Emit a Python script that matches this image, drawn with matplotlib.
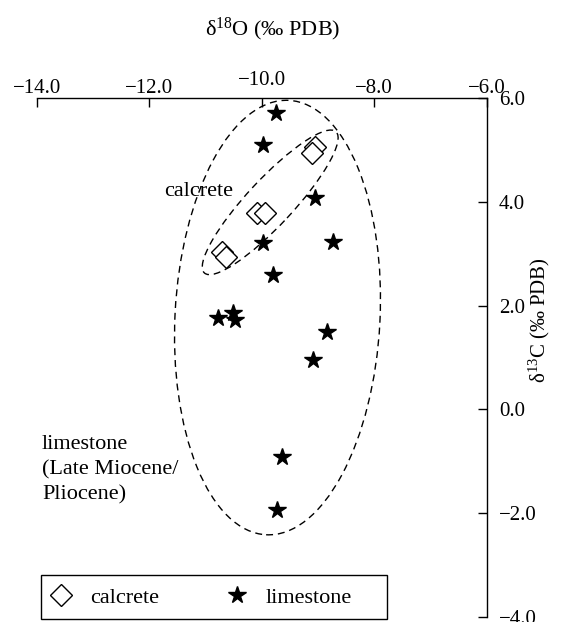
import matplotlib
matplotlib.use("Agg")
import matplotlib.pyplot as plt
from matplotlib.patches import Ellipse, Rectangle
from matplotlib.transforms import ScaledTranslation

plt.rcParams["font.family"] = ["Liberation Serif", "DejaVu Serif"]
plt.rcParams["mathtext.fontset"] = "custom"
plt.rcParams["mathtext.rm"] = "Liberation Serif"

# delta 18O / delta 13C values (per mil PDB)
calcrete_o = [-9.05, -9.11, -10.09, -9.94, -10.71, -10.64]
calcrete_c = [5.06, 4.94, 3.78, 3.78, 3.03, 2.94]

limestone_o = [-9.75, -9.98, -9.05, -9.98, -8.73, -9.80, -10.78, -10.51,
               -10.48, -8.84, -9.09, -9.64, -9.73]
limestone_c = [5.71, 5.09, 4.07, 3.21, 3.23, 2.59, 1.76, 1.86,
               1.72, 1.49, 0.95, -0.92, -1.94]

xticks = [-14, -12, -10, -8, -6]
xtick_labels = ["\u221214.0", "\u221212.0", "\u221210.0", "\u22128.0", "\u22126.0"]
yticks = [-4, -2, 0, 2, 4, 6]
ytick_labels = ["\u22124.0", "\u22122.0", "0.0", "2.0", "4.0", "6.0"]

fig = plt.figure(figsize=(5.65, 6.22), dpi=100)
ax = fig.add_axes([0.0655, 0.008, 0.7956, 0.8344])
ax.set_xlim(-14, -6)
ax.set_ylim(-4, 6)

for side in ["left", "bottom"]:
    ax.spines[side].set_visible(False)
for side in ["top", "right"]:
    ax.spines[side].set_linewidth(1.0)

ax.xaxis.tick_top()
ax.yaxis.tick_right()
ax.set_xticks(xticks)
ax.set_xticklabels(xtick_labels)
ax.set_yticks(yticks)
ax.set_yticklabels(ytick_labels)
ax.tick_params(axis="x", direction="in", length=6.5, width=1, labelsize=15, pad=0)
ax.tick_params(axis="y", direction="in", length=6.5, width=1, labelsize=15, pad=9)

# the -10.0 label sits a little higher than the others
lab = ax.xaxis.get_major_ticks()[2].label2
lab.set_transform(lab.get_transform() + ScaledTranslation(0, 0.08, fig.dpi_scale_trans))

# dashed envelopes, sized in inches and centred on data points
def envelope(cx, cy, w, h, angle):
    tr = fig.dpi_scale_trans + ScaledTranslation(cx, cy, ax.transData)
    e = Ellipse((0, 0), w, h, angle=angle, transform=tr, fill=False,
                edgecolor="black", linewidth=1.0, linestyle=(0, (5, 3.5)))
    ax.add_patch(e)

envelope(-9.72, 1.77, 2.05, 4.35, -3)
envelope(-9.85, 3.99, 1.93, 0.46, 47)

ax.plot(calcrete_o, calcrete_c, linestyle="none", marker="D", markersize=11,
        markerfacecolor="white", markeredgecolor="black", markeredgewidth=1.0,
        label="calcrete")
ax.plot(limestone_o, limestone_c, linestyle="none", marker="*", markersize=13,
        color="black", label="limestone")

ax.text(-11.74, 4.19, "calcrete", fontsize=16, ha="left", va="center")
ax.text(-13.91, -0.5, "limestone\n(Late Miocene/\nPliocene)", fontsize=16,
        ha="left", va="top", linespacing=1.42)

fig.text(0.483, 0.953, "\u03b4$\\mathregular{^{18}}$O (\u2030 PDB)", fontsize=16,
         ha="center", va="center")
fig.text(0.955, 0.486, "\u03b4$\\mathregular{^{13}}$C (\u2030 PDB)", fontsize=15,
         ha="center", va="center", rotation=90)

# legend entries, with a plain box drawn around them
leg = ax.legend(loc="center left", bbox_to_anchor=(0.0885, 0.0386),
                bbox_transform=fig.transFigure, ncol=2, frameon=False,
                borderaxespad=0, borderpad=0, handlelength=1.0,
                handletextpad=0.8, columnspacing=3.0, fontsize=16, numpoints=1)
fig.add_artist(Rectangle((0.0726, 0.005), 0.6124, 0.0707, transform=fig.transFigure,
                         fill=False, edgecolor="black", linewidth=1.0))

fig.savefig("out.png", dpi=100)
